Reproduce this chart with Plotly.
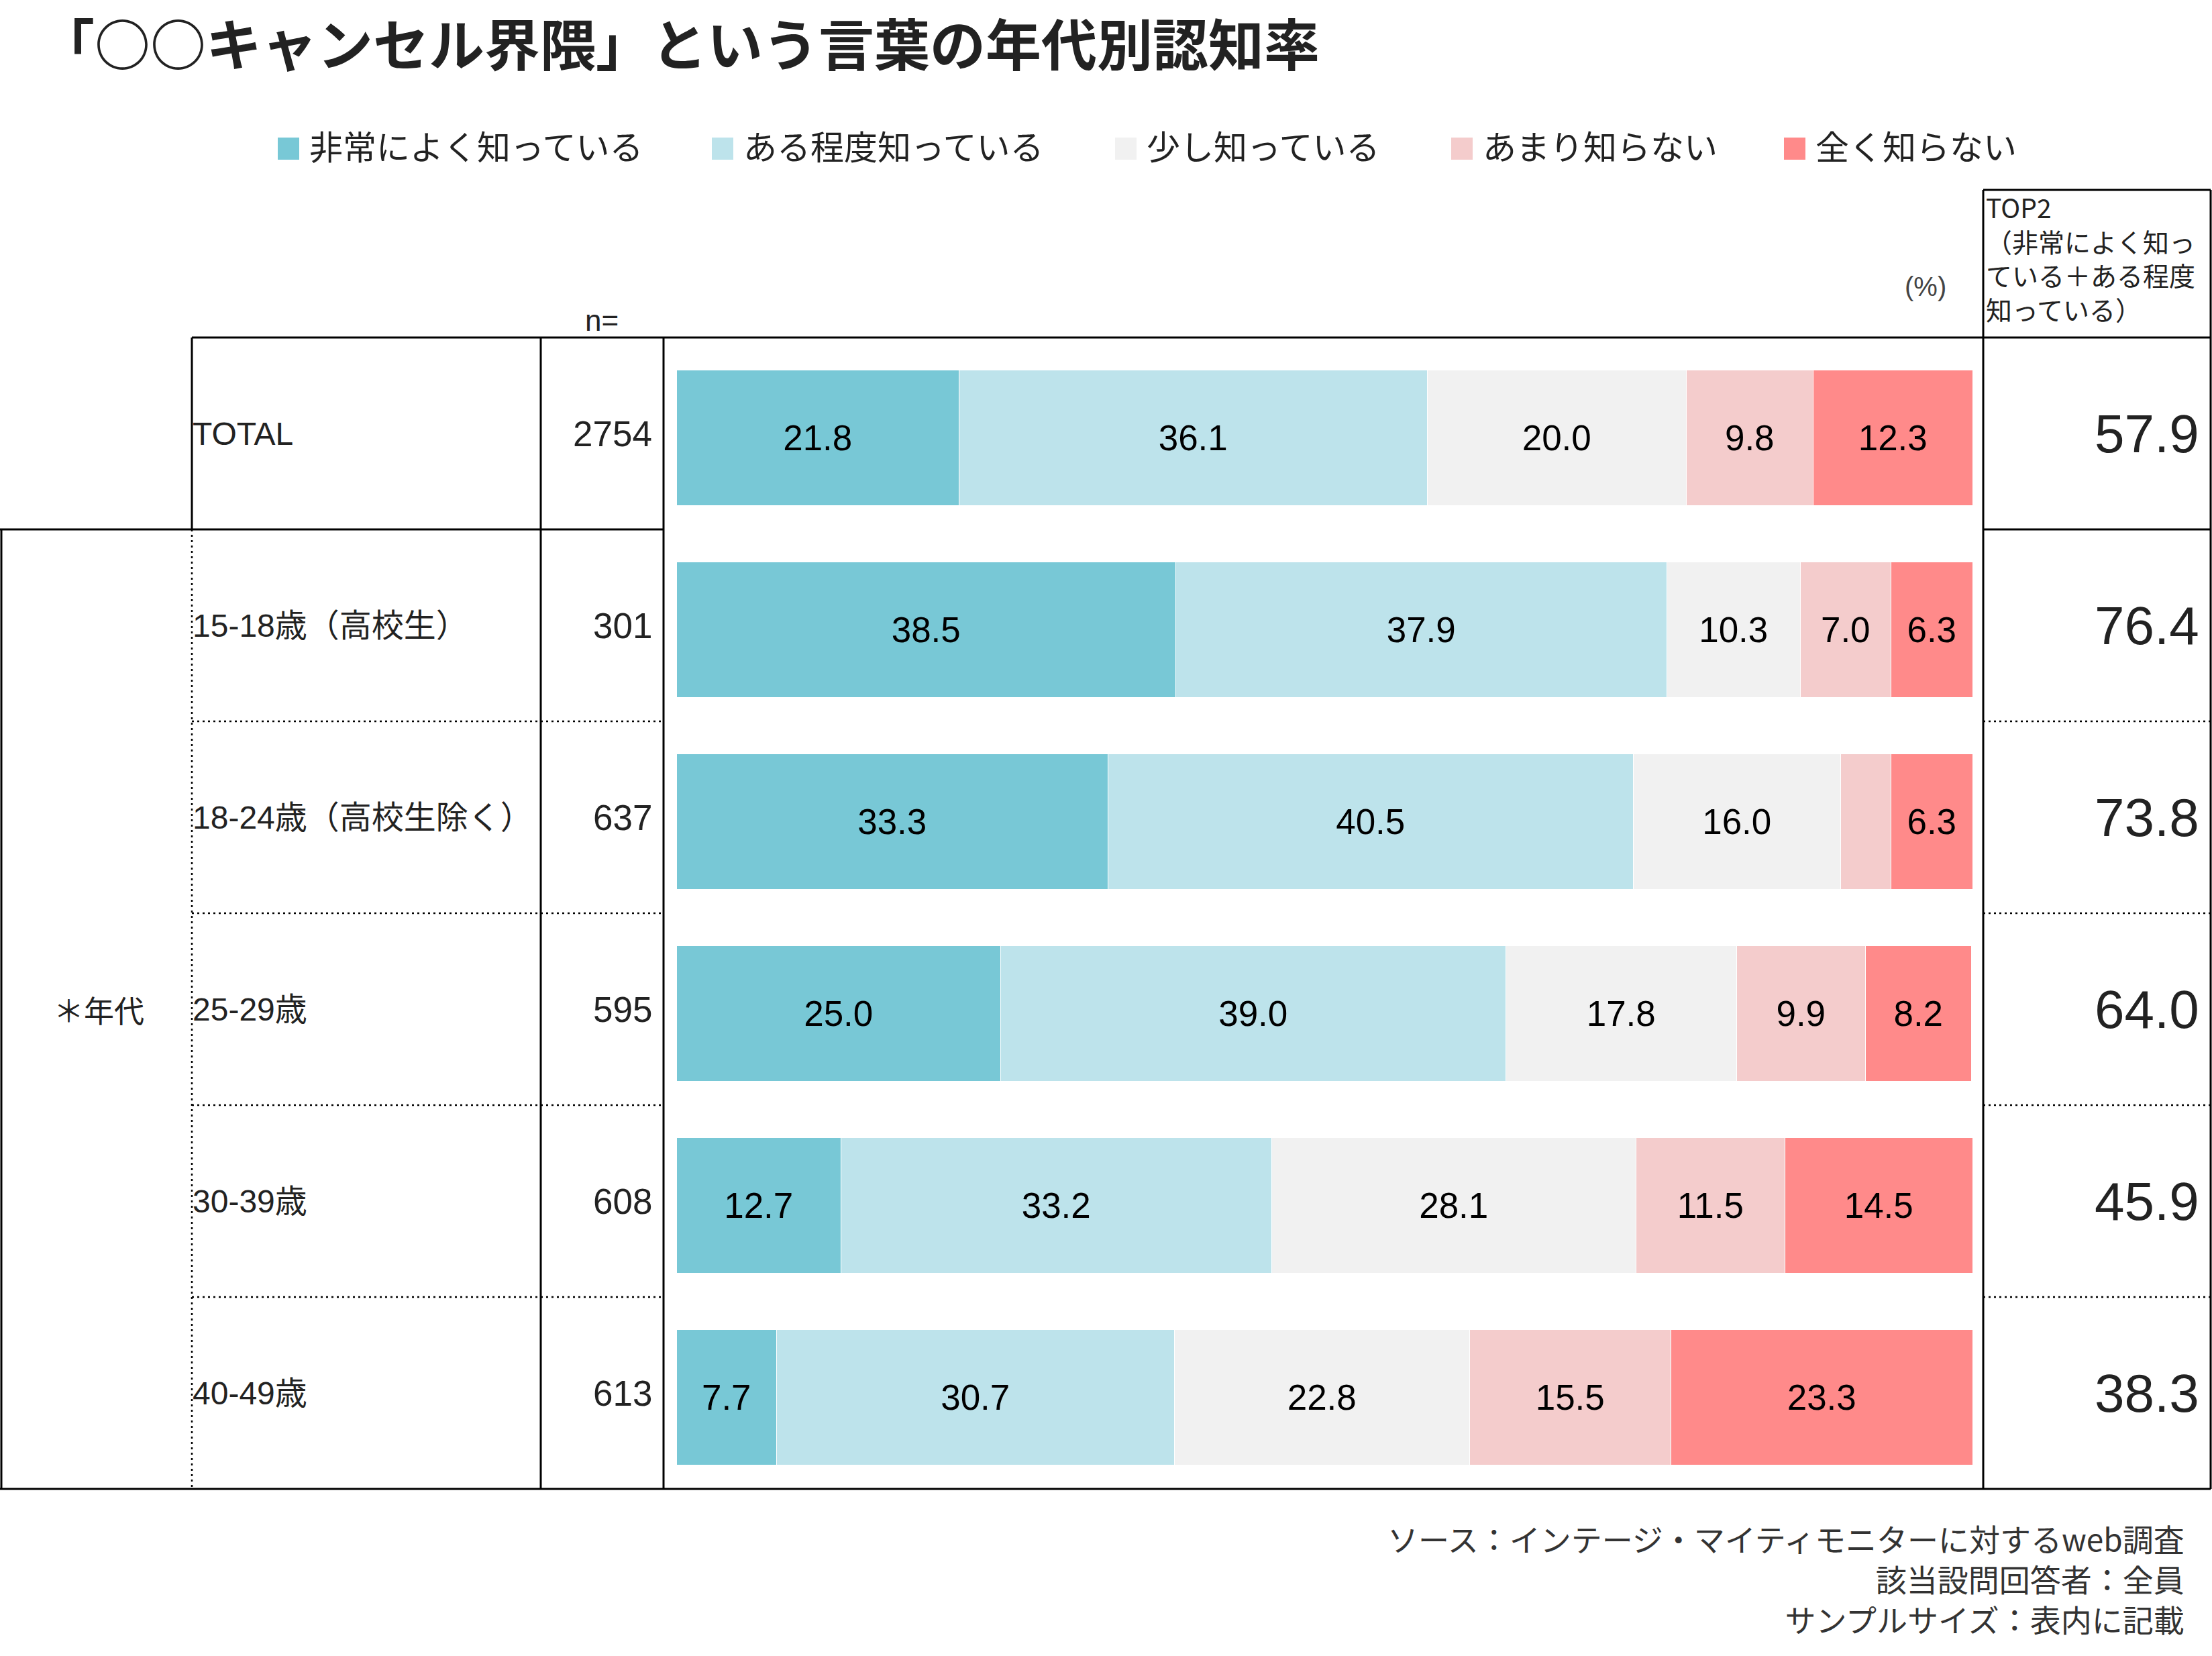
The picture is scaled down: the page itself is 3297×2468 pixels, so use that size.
import plotly.graph_objects as go

# ---------------- data ----------------
title_text = "「○○キャンセル界隈」という言葉の年代別認知率"
rows = ["TOTAL", "15-18歳（高校生）", "18-24歳（高校生除く）", "25-29歳", "30-39歳", "40-49歳"]
n_values = [2754, 301, 637, 595, 608, 613]
series_names = ["非常によく知っている", "ある程度知っている", "少し知っている", "あまり知らない", "全く知らない"]
very_well = [21.8, 38.5, 33.3, 25.0, 12.7, 7.7]
somewhat = [36.1, 37.9, 40.5, 39.0, 33.2, 30.7]
a_little = [20.0, 10.3, 16.0, 17.8, 28.1, 22.8]
not_much = [9.8, 7.0, 3.9, 9.9, 11.5, 15.5]
not_at_all = [12.3, 6.3, 6.3, 8.2, 14.5, 23.3]
top2 = [57.9, 76.4, 73.8, 64.0, 45.9, 38.3]
group_label = "＊年代"
top2_header = "TOP2<br>（非常によく知っ<br>ている＋ある程度<br>知っている）"
footer_lines = ["ソース：インテージ・マイティモニターに対するweb調査", "該当設問回答者：全員", "サンプルサイズ：表内に記載"]
series_colors = ["#78C8D6", "#BDE3EB", "#F1F1F1", "#F4CCCC", "#FF8A8A"]

# ---------------- geometry ----------------
W, H = 3297, 2468
L, R, T, B = 989, 2956, 503, 2219  # plot area in pixels
ROW_H = (B - T) / len(rows)
SHIFT = 7  # bars sit slightly below row centre

def px(x):
    return (x - L) / (R - L)

def py(y):
    return (B - y) / (B - T)

JP = "Noto Sans CJK JP, sans-serif"
LAT = "Liberation Sans, Arial, Noto Sans CJK JP, sans-serif"
TXT = "#222222"

fig = go.Figure()
series_values = [very_well, somewhat, a_little, not_much, not_at_all]
for name, vals, col in zip(series_names, series_values, series_colors):
    fig.add_trace(go.Bar(
        name=name, y=rows, x=vals, orientation="h",
        marker=dict(color=col, line=dict(color="white", width=1.5)),
        width=0.703,
        texttemplate="%{x:.1f}", textposition="inside", insidetextanchor="middle",
        textangle=0, textfont=dict(family=LAT, size=53, color="black"),
        showlegend=False, hoverinfo="name+x",
    ))

x_min = -20 / 19.32
x_max = 100 + 15 / 19.32
d = SHIFT / ROW_H
fig.update_layout(
    width=W, height=H, autosize=False,
    margin=dict(l=L, r=W - R, t=T, b=H - B, pad=0),
    barmode="stack", bargap=0,
    plot_bgcolor="white", paper_bgcolor="white",
    uniformtext=dict(minsize=53, mode="hide"),
    xaxis=dict(range=[x_min, x_max], visible=False, fixedrange=True),
    yaxis=dict(type="category", categoryorder="array", categoryarray=rows,
               range=[len(rows) - 0.5 - d, -0.5 - d], visible=False, fixedrange=True),
)

shapes = []

def line(x0, y0, x1, y1, dash="solid", w=3):
    shapes.append(dict(type="line", xref="paper", yref="paper",
                       x0=px(x0), x1=px(x1), y0=py(y0), y1=py(y1),
                       line=dict(color="black", width=w, dash=dash)))

DOT = "3px,5px"
row_edges = [T + i * ROW_H for i in range(len(rows) + 1)]
# horizontal lines
line(286, T, 3295, T)                     # top of table
line(2956, 283, 3295, 283)                # top of TOP2 header
line(0, row_edges[1], L, row_edges[1])    # below TOTAL (left part)
line(2956, row_edges[1], 3295, row_edges[1])
for yy in row_edges[2:-1]:
    line(286, yy, L, yy, dash=DOT, w=2.5)
    line(2956, yy, 3295, yy, dash=DOT, w=2.5)
line(0, B, 3295, B)                       # bottom
# vertical lines
line(2, row_edges[1], 2, B)
line(286, T, 286, row_edges[1])
line(286, row_edges[1], 286, B, dash=DOT, w=2.5)
line(806, T, 806, B)
line(L, T, L, B)
line(R, 283, R, B)
line(3295, 283, 3295, B)

annotations = []
# title
annotations.append(dict(text=title_text, xref="paper", yref="paper", x=px(56), y=py(62),
                        xanchor="left", yanchor="middle", showarrow=False,
                        font=dict(family=JP, size=83, color=TXT, weight="bold")))

# legend (manual)
leg_x = [414, 1061, 1662, 2163, 2659]
for xx, name, col in zip(leg_x, series_names, series_colors):
    shapes.append(dict(type="rect", xref="paper", yref="paper",
                       x0=px(xx), x1=px(xx + 32), y0=py(238), y1=py(205),
                       line=dict(width=0), fillcolor=col))
    annotations.append(dict(text=name, xref="paper", yref="paper", x=px(xx + 45), y=py(216),
                            xanchor="left", yanchor="middle", showarrow=False,
                            font=dict(family=JP, size=50, color=TXT)))

# table texts
for r, n, t2 in zip(rows, n_values, top2):
    annotations.append(dict(text=r, xref="paper", yref="y", x=px(285), y=r, yshift=SHIFT,
                            xanchor="left", yanchor="middle", showarrow=False,
                            font=dict(family=LAT, size=48, color=TXT)))
    annotations.append(dict(text=str(n), xref="paper", yref="y", x=px(974), y=r, yshift=SHIFT,
                            xanchor="right", yanchor="middle", showarrow=False,
                            font=dict(family=LAT, size=53, color=TXT)))
    annotations.append(dict(text=f"{t2:.1f}", xref="paper", yref="y", x=px(3280), y=r, yshift=SHIFT,
                            xanchor="right", yanchor="middle", showarrow=False,
                            font=dict(family=LAT, size=80, color=TXT)))

annotations.append(dict(text=group_label, xref="paper", yref="paper", x=px(147), y=py((row_edges[1] + B) / 2),
                        xanchor="center", yanchor="middle", showarrow=False,
                        font=dict(family=JP, size=45, color=TXT)))
annotations.append(dict(text="n=", xref="paper", yref="paper", x=px(897), y=py(478),
                        xanchor="center", yanchor="middle", showarrow=False,
                        font=dict(family=LAT, size=44, color=TXT)))
annotations.append(dict(text="(%)", xref="paper", yref="paper", x=px(2870), y=py(427),
                        xanchor="center", yanchor="middle", showarrow=False,
                        font=dict(family=LAT, size=40, color="#444444")))
annotations.append(dict(text=top2_header, xref="paper", yref="paper", x=px(2958), y=py(278),
                        xanchor="left", yanchor="top", align="left", showarrow=False,
                        font=dict(family=JP, size=39, color=TXT)))
annotations.append(dict(text="<br>".join(footer_lines), xref="paper", yref="paper", x=px(3258), y=py(2352),
                        xanchor="right", yanchor="middle", align="right", showarrow=False,
                        font=dict(family=JP, size=46, color="#333333")))

fig.update_layout(shapes=shapes, annotations=annotations)
fig.write_html("out.html")
